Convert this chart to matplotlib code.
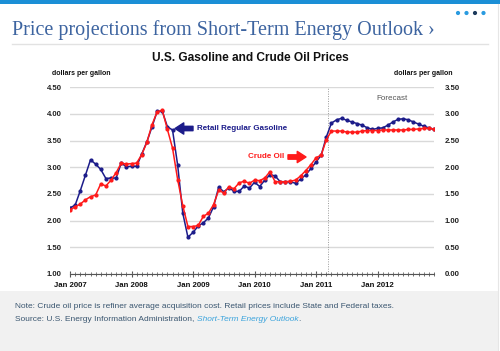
import matplotlib
matplotlib.use("Agg")
import matplotlib.pyplot as plt
from matplotlib.patches import Rectangle, Ellipse
from matplotlib.lines import Line2D
from matplotlib.ticker import MultipleLocator, FixedLocator, FixedFormatter

# ---------------- data ----------------
years = [2007, 2008, 2009, 2010, 2011, 2012]
tick_labels = ["Jan 2007", "Jan 2008", "Jan 2009", "Jan 2010", "Jan 2011", "Jan 2012"]

# Retail regular gasoline, dollars per gallon (left axis), monthly Jan 2007 - Dec 2012
gasoline = [
    2.24, 2.29, 2.56, 2.85, 3.14, 3.06, 2.96, 2.79, 2.80, 2.80, 3.08, 3.01,   # 2007
    3.02, 3.02, 3.25, 3.48, 3.76, 4.05, 4.05, 3.76, 3.70, 3.04, 2.14, 1.69,   # 2008
    1.78, 1.90, 1.96, 2.05, 2.26, 2.63, 2.54, 2.62, 2.55, 2.55, 2.65, 2.61,   # 2009
    2.72, 2.64, 2.76, 2.86, 2.84, 2.73, 2.73, 2.73, 2.70, 2.78, 2.86, 2.98,   # 2010
    3.10, 3.23, 3.57, 3.83, 3.89, 3.92, 3.88, 3.85, 3.82, 3.79, 3.74, 3.71,   # 2011
    3.73, 3.74, 3.79, 3.85, 3.90, 3.91, 3.89, 3.85, 3.81, 3.77, 3.74, 3.71,   # 2012
]

# Crude oil (refiner average acquisition cost), dollars per gallon (right axis)
crude = [
    1.20, 1.26, 1.31, 1.39, 1.45, 1.48, 1.69, 1.65, 1.76, 1.90, 2.08, 2.06,   # 2007
    2.07, 2.08, 2.24, 2.47, 2.80, 3.04, 3.07, 2.71, 2.36, 1.77, 1.28, 0.89,   # 2008
    0.89, 0.91, 1.08, 1.14, 1.30, 1.57, 1.52, 1.63, 1.60, 1.71, 1.74, 1.70,   # 2009
    1.76, 1.75, 1.80, 1.92, 1.73, 1.73, 1.73, 1.74, 1.76, 1.84, 1.94, 2.05,   # 2010
    2.18, 2.23, 2.52, 2.68, 2.68, 2.68, 2.66, 2.66, 2.66, 2.68, 2.69, 2.69,   # 2011
    2.69, 2.70, 2.70, 2.70, 2.70, 2.70, 2.71, 2.71, 2.72, 2.73, 2.73, 2.72,   # 2012
]

months = list(range(len(gasoline)))
forecast_start = 50.3          # month index where forecast begins (Apr 2011 release)
left_ticks = [1.00, 1.50, 2.00, 2.50, 3.00, 3.50, 4.00, 4.50]
right_ticks = [0.00, 0.50, 1.00, 1.50, 2.00, 2.50, 3.00, 3.50]

# ---------------- styling ----------------
W, H = 500, 351
BLUE = "#1c1c8a"
RED = "#ff1a1a"
SANS = ["Liberation Sans", "DejaVu Sans"]
SERIF = ["Liberation Serif", "DejaVu Serif"]
plt.rcParams["font.family"] = SANS

fig = plt.figure(figsize=(W / 100, H / 100), dpi=100)
fig.patch.set_facecolor("white")


def fx(x):
    return x / W


def fy(y):
    return 1 - y / H


# page decorations
fig.add_artist(Rectangle((0, fy(3.5)), 1, 3.5 / H, transform=fig.transFigure,
                         facecolor="#1b8fd6", edgecolor="none", zorder=0))
fig.add_artist(Rectangle((0, 0), fx(498), fy(291), transform=fig.transFigure,
                         facecolor="#f1f1f1", edgecolor="none", zorder=0))
fig.add_artist(Line2D([fx(12), fx(488)], [fy(44), fy(44)], transform=fig.transFigure,
                      color="#e2e2e2", lw=1.0))
fig.add_artist(Line2D([fx(498), fx(498)], [0, fy(4)], transform=fig.transFigure,
                      color="#e6e6e6", lw=0.8))
for i, cx in enumerate([458, 466.5, 475, 483.5]):
    col = "#1d3a5c" if i == 2 else "#2a9be0"
    fig.add_artist(Ellipse((fx(cx), fy(13)), 4.2 / W, 4.2 / H, transform=fig.transFigure,
                           facecolor=col, edgecolor="none"))

fig.text(fx(12), fy(30), "Price projections from Short-Term Energy Outlook \u203a",
         family=SERIF, fontsize=14.5, color="#3d64a0", va="center", ha="left")

fig.text(fx(250), fy(58), "U.S. Gasoline and Crude Oil Prices", fontsize=8.6,
         fontweight="bold", color="#111111", ha="center", va="center")
fig.text(fx(81), fy(73.5), "dollars per gallon", fontsize=5, fontweight="bold",
         color="#111111", ha="center", va="center")
fig.text(fx(423), fy(73.5), "dollars per gallon", fontsize=5, fontweight="bold",
         color="#111111", ha="center", va="center")

# ---------------- axes ----------------
ax = fig.add_axes([fx(70), fy(274), fx(434) - fx(70), fy(87.3) - fy(274)])
ax.set_facecolor("none")
ax2 = ax.twinx()

ax.set_xlim(0, len(months) - 1)
ax.set_ylim(left_ticks[0], left_ticks[-1])
ax2.set_ylim(right_ticks[0], right_ticks[-1])

for a in (ax, ax2):
    for s in ("top", "left", "right", "bottom"):
        a.spines[s].set_visible(False)

ax.spines["bottom"].set_visible(True)
ax.spines["bottom"].set_color("#555555")
ax.spines["bottom"].set_linewidth(0.8)

ax.set_yticks(left_ticks)
ax.set_yticklabels([f"{v:.2f}" for v in left_ticks])
ax2.set_yticks(right_ticks)
ax2.set_yticklabels([f"{v:.2f}" for v in right_ticks])
ax.tick_params(axis="y", length=0, pad=6, labelsize=5.6, labelcolor="#222222")
ax2.tick_params(axis="y", length=0, pad=7.5, labelsize=5.6, labelcolor="#222222")
for lab in ax.get_yticklabels() + ax2.get_yticklabels():
    lab.set_fontweight("bold")

major_pos = [12 * (y - years[0]) for y in years]
ax.xaxis.set_major_locator(FixedLocator(major_pos))
ax.xaxis.set_major_formatter(FixedFormatter(tick_labels))
ax.xaxis.set_minor_locator(MultipleLocator(1))
ax.tick_params(axis="x", which="major", direction="inout", length=5, width=0.8,
               color="#555555", labelsize=5.6, pad=3, labelcolor="#111111")
ax.tick_params(axis="x", which="minor", direction="inout", length=3, width=0.6,
               color="#555555")
for lab in ax.get_xticklabels():
    lab.set_fontweight("bold")

ax.yaxis.grid(True, color="#d9d9d9", lw=1.0)
ax.set_axisbelow(True)

ax.axvline(forecast_start, color="#999999", lw=0.7, ls=(0, (1, 1.5)), zorder=1)

ax.plot(months, gasoline, color=BLUE, lw=1.1, marker="o", ms=2.0, zorder=3)
ax2.plot(months, crude, color=RED, lw=1.1, marker="o", ms=2.0, zorder=3)
ax2.set_zorder(ax.get_zorder() + 1)
ax2.patch.set_visible(False)

# annotations
fig.text(fx(197), fy(129), "Retail Regular Gasoline", fontsize=5.8, fontweight="bold",
         color=BLUE, ha="left", va="center")
ax.annotate("", xy=(fx(175), fy(128.5)), xycoords="figure fraction",
            xytext=(fx(193), fy(128.5)), textcoords="figure fraction",
            arrowprops=dict(arrowstyle="simple,head_width=0.9,head_length=0.7,tail_width=0.35",
                            color=BLUE, mutation_scale=9, shrinkA=0, shrinkB=0))
fig.text(fx(284), fy(157), "Crude Oil", fontsize=5.8, fontweight="bold",
         color=RED, ha="right", va="center")
ax.annotate("", xy=(fx(306), fy(157)), xycoords="figure fraction",
            xytext=(fx(288), fy(157)), textcoords="figure fraction",
            arrowprops=dict(arrowstyle="simple,head_width=0.9,head_length=0.7,tail_width=0.35",
                            color=RED, mutation_scale=9, shrinkA=0, shrinkB=0))
fig.text(fx(392), fy(98), "Forecast", fontsize=5.8, color="#555555",
         ha="center", va="center")

# footer
FOOT = "#3a5670"
FS = 6.0
fig.text(fx(15), fy(307), "Note: Crude oil price is refiner average acquisition cost. "
         "Retail prices include State and Federal taxes.",
         fontsize=FS, color=FOOT, ha="left", va="center")
t1 = fig.text(fx(15), fy(319.5), "Source: U.S. Energy Information Administration, ",
              fontsize=FS, color=FOOT, ha="left", va="center")
fig.canvas.draw()
bb = t1.get_window_extent()
t2 = fig.text(bb.x1 / W, fy(319.5), "Short-Term Energy Outlook", fontsize=FS,
              style="italic", color="#3aa3dc", ha="left", va="center")
fig.canvas.draw()
bb2 = t2.get_window_extent()
fig.text(bb2.x1 / W, fy(319.5), ".", fontsize=FS, color=FOOT, ha="left", va="center")

fig.savefig("out.png", dpi=100)
